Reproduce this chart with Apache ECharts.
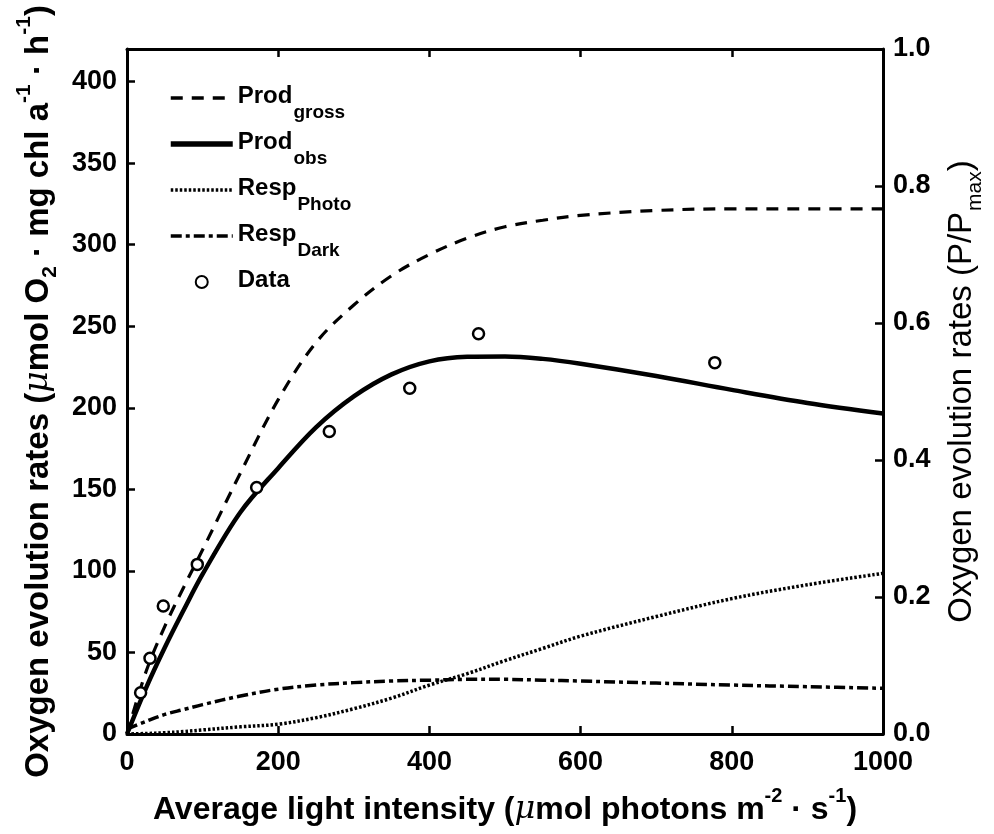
<!DOCTYPE html>
<html>
<head>
<meta charset="utf-8">
<script src="https://cdn.jsdelivr.net/npm/echarts@6/dist/echarts.min.js"></script>
<style>html,body{margin:0;padding:0;background:#fff;}#chart{width:994px;height:834px;}</style>
</head>
<body>
<div id="chart"></div>
<script>
// ---- data ----
const lightX      = [0, 25, 50, 75, 100, 150, 200, 250, 300, 350, 400, 450, 500, 550, 600, 700, 800, 900, 1000];
const prodGross   = [0, 38, 66, 90, 113, 160, 205, 240, 263, 281, 294, 304, 311, 315, 318, 321, 322, 322, 322];
const prodObs     = [0, 28, 53, 76, 98, 136, 163, 188, 207, 220.5, 228.5, 231.3, 231.5, 230, 227, 219.5, 211, 203, 196.5];
const respPhoto   = [0, 0.3, 0.8, 1.5, 2.5, 4.4, 6, 10, 15.5, 22, 30, 37, 45, 52.5, 60, 72, 83, 91.5, 98.5];
const respDark    = [3, 7.7, 12, 15, 18, 23.3, 27.5, 30, 31.5, 32.5, 33, 33.5, 33.5, 33, 32.5, 31.2, 30, 29, 28];
const dataX       = [18, 30.4, 48, 93, 171.5, 267.6, 374, 465, 777.5];
const dataY       = [25.3, 46.4, 78.5, 104, 151.2, 185.5, 212, 245.4, 227.7];
const xTicks      = [0, 200, 400, 600, 800, 1000];
const leftTicks   = [0, 50, 100, 150, 200, 250, 300, 350, 400];
const rightTicks  = [0.0, 0.2, 0.4, 0.6, 0.8, 1.0];
const seriesNames = ['Prod_gross', 'Prod_obs', 'Resp_Photo', 'Resp_Dark', 'Data'];
const legendMain  = ['Prod', 'Prod', 'Resp', 'Resp', 'Data'];
const legendSub   = ['gross', 'obs', 'Photo', 'Dark', ''];

const FONT = 'Liberation Sans, Arial, sans-serif';
const pair = (xs, ys) => xs.map((x, i) => [x, ys[i]]);

const chart = echarts.init(document.getElementById('chart'), null, {renderer: 'canvas'});

const lineSeries = (name, ys, width, dash) => ({
  name, type: 'line', data: pair(lightX, ys), smooth: 0.35, showSymbol: false, symbol: 'none',
  lineStyle: {color: '#000', width, type: dash}, itemStyle: {color: '#000'},
  xAxisIndex: 0, yAxisIndex: 0, z: 3, animation: false
});

const legendWidths = [3.5, 5.5, 3.5, 3.5];
const legendData = seriesNames.map((n, i) => {
  if (i === 4) return {name: n};
  return {name: n, itemStyle: {opacity: 0}, lineStyle: {width: legendWidths[i]}};
});

const option = {
  backgroundColor: '#fff',
  animation: false,
  grid: {left: 127, right: 111, top: 49, bottom: 100, containLabel: false},
  legend: {
    orient: 'vertical', left: 168, top: 84, padding: 0,
    itemWidth: 62, itemHeight: 12, itemGap: 8,
    data: legendData,
    formatter: name => {
      const i = seriesNames.indexOf(name);
      return legendSub[i] ? `{m|${legendMain[i]}}{s|${legendSub[i]}}` : `{m|${legendMain[i]}}`;
    },
    textStyle: {
      color: '#000', fontFamily: FONT, fontWeight: 'bold', padding: [0, 0, 0, 0],
      rich: {
        m: {fontSize: 24, fontWeight: 'bold', fontFamily: FONT, color: '#000', lineHeight: 28, verticalAlign: 'top'},
        s: {fontSize: 19, fontWeight: 'bold', fontFamily: FONT, color: '#000', lineHeight: 20, padding: [19, 0, 0, 1], verticalAlign: 'top'}
      }
    }
  },
  xAxis: [{
    type: 'value', min: 0, max: 1000, interval: 200, position: 'bottom',
    axisLine: {show: true, onZero: false, lineStyle: {color: '#000', width: 3}},
    axisTick: {show: true, inside: true, length: 8, lineStyle: {color: '#000', width: 2.5}},
    axisLabel: {color: '#000', fontSize: 27, fontWeight: 'bold', fontFamily: FONT, margin: 15,
      formatter: v => xTicks.includes(v) ? String(v) : ''},
    splitLine: {show: false},
    name: '{b|Average light intensity (}{mu|μ}{b|mol photons m}{sup|-2}{b| · s}{sup|-1}{b|)}',
    nameLocation: 'middle', nameGap: 52,
    nameTextStyle: {
      color: '#000', fontFamily: FONT,
      rich: {
        b: {fontSize: 32, fontWeight: 'bold', fontFamily: FONT, color: '#000', lineHeight: 36, padding: [8, 0, 0, 0], verticalAlign: 'top'},
        mu: {fontSize: 32, fontStyle: 'italic', fontFamily: 'DejaVu Serif, serif', color: '#000', lineHeight: 36, padding: [8, 0, 0, 0], verticalAlign: 'top'},
        sup: {fontSize: 20, fontWeight: 'bold', fontFamily: FONT, color: '#000', lineHeight: 22, verticalAlign: 'top'}
      }
    }
  }, {
    type: 'value', min: 0, max: 1000, interval: 200, position: 'top',
    axisLine: {show: true, onZero: false, lineStyle: {color: '#000', width: 3}},
    axisTick: {show: true, inside: true, length: 8, lineStyle: {color: '#000', width: 2.5}},
    axisLabel: {show: false}, splitLine: {show: false}
  }],
  yAxis: [{
    type: 'value', min: 0, max: 420, interval: 50, position: 'left',
    axisLine: {show: true, onZero: false, lineStyle: {color: '#000', width: 3}},
    axisTick: {show: true, inside: true, length: 8, lineStyle: {color: '#000', width: 2.5}},
    axisLabel: {color: '#000', fontSize: 27, fontWeight: 'bold', fontFamily: FONT, margin: 10, showMaxLabel: false,
      formatter: v => leftTicks.includes(v) ? String(v) : ''},
    splitLine: {show: false},
    name: '{b|Oxygen evolution rates (}{mu|μ}{b|mol O}{sub|2}{b| · mg chl a}{sup|-1}{b| · h}{sup|-1}{b|)}',
    nameLocation: 'middle', nameGap: 72,
    nameTextStyle: {
      color: '#000', fontFamily: FONT,
      rich: {
        b: {fontSize: 33, fontWeight: 'bold', fontFamily: FONT, color: '#000', lineHeight: 36, padding: [8, 0, 0, 0], verticalAlign: 'top'},
        mu: {fontSize: 33, fontStyle: 'italic', fontFamily: 'DejaVu Serif, serif', color: '#000', lineHeight: 36, padding: [8, 0, 0, 0], verticalAlign: 'top'},
        sup: {fontSize: 21, fontWeight: 'bold', fontFamily: FONT, color: '#000', lineHeight: 22, verticalAlign: 'top'},
        sub: {fontSize: 21, fontWeight: 'bold', fontFamily: FONT, color: '#000', lineHeight: 22, padding: [26, 0, 0, 0], verticalAlign: 'top'}
      }
    }
  }, {
    type: 'value', min: 0, max: 1, interval: 0.2, position: 'right',
    axisLine: {show: true, onZero: false, lineStyle: {color: '#000', width: 3}},
    axisTick: {show: true, inside: true, length: 8, lineStyle: {color: '#000', width: 2.5}},
    axisLabel: {color: '#000', fontSize: 27, fontWeight: 'bold', fontFamily: FONT, margin: 10,
      formatter: v => rightTicks.some(t => Math.abs(t - v) < 1e-9) ? v.toFixed(1) : ''},
    splitLine: {show: false},
    name: '{b|Oxygen evolution rates (P/P}{sub|max}{b|)}',
    nameLocation: 'middle', nameGap: 62,
    nameTextStyle: {
      color: '#000', fontFamily: FONT,
      rich: {
        b: {fontSize: 33, fontFamily: FONT, color: '#000', lineHeight: 36, verticalAlign: 'top'},
        sub: {fontSize: 21, fontFamily: FONT, color: '#000', lineHeight: 22, padding: [20, 0, 0, 1], verticalAlign: 'top'}
      }
    }
  }],
  series: [
    lineSeries(seriesNames[0], prodGross, 3.2, [12, 9]),
    lineSeries(seriesNames[1], prodObs, 4.5, 'solid'),
    lineSeries(seriesNames[2], respPhoto, 3.5, [2.5, 2]),
    lineSeries(seriesNames[3], respDark, 3.5, [11, 4, 4, 4]),
    {
      name: seriesNames[4], type: 'scatter', data: pair(dataX, dataY),
      symbol: 'circle', symbolSize: 11,
      itemStyle: {color: '#fff', borderColor: '#000', borderWidth: 2.5, opacity: 1},
      xAxisIndex: 0, yAxisIndex: 0, z: 4, animation: false
    }
  ]
};
chart.setOption(option);
</script>
</body>
</html>
